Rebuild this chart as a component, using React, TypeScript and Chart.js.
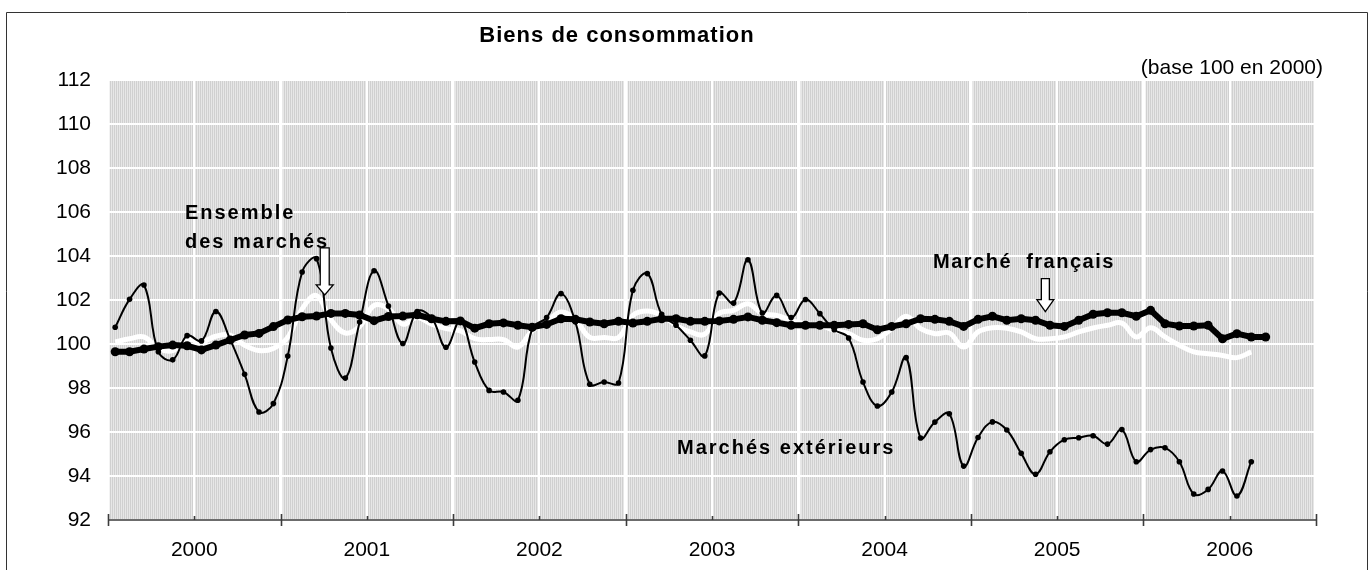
import { useEffect, useRef } from 'react';
import { Chart, registerables } from 'chart.js';

Chart.register(...registerables);

// Monthly indices, base 100 in 2000, starting January 2000
const START_YEAR = 2000;
const N_YEARS = 7;

// Marché français (thick black line with markers)
const marcheFrancais = [
  99.65, 99.65, 99.77, 99.88, 99.95, 99.92, 99.73, 99.95, 100.18, 100.41, 100.48, 100.79,
  101.09, 101.24, 101.27, 101.39, 101.39, 101.32, 101.06, 101.25, 101.27, 101.33, 101.15, 101.03,
  101.05, 100.72, 100.92, 100.96, 100.85, 100.76, 100.89, 101.15, 101.12, 101.0, 100.92, 101.03,
  100.95, 101.03, 101.15, 101.15, 101.03, 101.03, 101.05, 101.12, 101.23, 101.08, 100.97, 100.85,
  100.85, 100.85, 100.85, 100.89, 100.92, 100.65, 100.8, 100.92, 101.15, 101.12, 101.03, 100.8,
  101.12, 101.26, 101.08, 101.15, 101.08, 100.85, 100.8, 101.08, 101.35, 101.42, 101.42, 101.26,
  101.53, 100.92, 100.82, 100.82, 100.85, 100.24, 100.47, 100.32, 100.32,
];

// Marchés extérieurs (thin black smoothed line with markers)
const marchesExterieurs = [
  100.76, 102.03, 102.68, 99.65, 99.28, 100.38, 100.14, 101.48, 100.2, 98.62, 96.91, 97.29,
  99.45, 103.27, 103.88, 99.82, 98.45, 101.0, 103.33, 101.73, 100.02, 101.48, 101.2, 99.85,
  101.05, 99.18, 97.89, 97.82, 97.44, 100.7, 101.2, 102.29, 101.0, 98.17, 98.27, 98.23,
  102.44, 103.2, 101.35, 100.85, 100.17, 99.46, 102.32, 101.86, 103.83, 101.41, 102.21, 101.2,
  102.02, 101.38, 100.65, 100.27, 98.27, 97.18, 97.82, 99.38, 95.73, 96.45, 96.83, 94.45,
  95.75, 96.46, 96.09, 95.03, 94.08, 95.1, 95.65, 95.74, 95.83, 95.45, 96.11, 94.65,
  95.2, 95.28, 94.65, 93.18, 93.39, 94.23, 93.09, 94.65,
];

// Ensemble des marchés (thick white smoothed line)
const ensembleMarches = [
  100.09, 100.24, 100.32, 99.8, 99.7, 100.2, 100.1, 100.35, 100.4, 99.94, 99.7, 99.8,
  100.3, 101.6, 102.2, 101.1, 100.5, 100.8, 101.75, 101.6, 100.9, 101.2, 100.9, 100.7,
  100.6, 100.24, 100.2, 100.2, 99.86, 100.6, 101.0, 101.45, 101.1, 100.3, 100.3, 100.3,
  101.3, 101.5, 101.3, 100.85, 100.55, 100.45, 101.4, 101.53, 101.83, 101.38, 101.3, 101.08,
  100.92, 100.85, 100.62, 100.47, 100.17, 100.24, 100.7, 101.26, 100.7, 100.47, 100.5, 99.86,
  100.55, 100.74, 100.72, 100.55, 100.24, 100.24, 100.32, 100.55, 100.73, 100.85, 100.95, 100.32,
  100.74, 100.32, 99.94, 99.64, 99.56, 99.48, 99.38, 99.64,
];

const Y_MIN = 92;
const Y_MAX = 112;
const Y_STEP = 2;

const TITLE = 'Biens de consommation';
const NOTE = '(base 100 en 2000)';

const FONT = "'Liberation Sans', Arial, sans-serif";

const toPoints = (arr: number[]) => arr.map((v, i) => ({ x: i + 0.5, y: v }));

// text annotations anchored in data units (x: months since Jan 2000, y: index)
const textNotes = [
  { text: 'Ensemble', x: 5.35, y: 105.68, spacing: 2 },
  { text: 'des marchés', x: 5.35, y: 104.36, spacing: 2 },
  { text: 'Marché  français', x: 57.37, y: 103.45, spacing: 1.5 },
  { text: 'Marchés extérieurs', x: 39.57, y: 95.0, spacing: 2 },
];
// arrows: tip position in data units, shaft/head in px
const arrowNotes = [
  { x: 15.07, y: 102.23, shaft: 37, head: 10, shaftW: 9, headW: 17 },
  { x: 65.18, y: 101.47, shaft: 21, head: 12, shaftW: 8, headW: 17 },
];

function makePattern(): CanvasPattern | string {
  const c = document.createElement('canvas');
  c.width = 2;
  c.height = 1;
  const g = c.getContext('2d');
  if (!g) return '#dadada';
  g.fillStyle = '#d0d0d0';
  g.fillRect(0, 0, 1, 1);
  g.fillStyle = '#e7e7e7';
  g.fillRect(1, 0, 1, 1);
  const p = g.createPattern(c, 'repeat');
  return p || '#dadada';
}

const backgroundPlugin = {
  id: 'bgFrame',
  beforeDraw(chart: any) {
    const { ctx, chartArea, width } = chart;
    ctx.save();
    ctx.fillStyle = '#ffffff';
    ctx.fillRect(0, 0, width, chart.height);
    // frame
    ctx.strokeStyle = '#333333';
    ctx.lineWidth = 1;
    ctx.beginPath();
    ctx.moveTo(6.5, chart.height + 5);
    ctx.lineTo(6.5, 12.5);
    ctx.lineTo(1367.5, 12.5);
    ctx.lineTo(1367.5, chart.height + 5);
    ctx.stroke();
    // plot background
    ctx.fillStyle = makePattern();
    ctx.fillRect(chartArea.left, chartArea.top, chartArea.right - chartArea.left, chartArea.bottom - chartArea.top);
    // title & note
    ctx.fillStyle = '#000';
    ctx.font = `bold 22px ${FONT}`;
    (ctx as any).letterSpacing = '1px';
    ctx.textAlign = 'center';
    ctx.textBaseline = 'alphabetic';
    ctx.fillText(TITLE, 617, 42);
    (ctx as any).letterSpacing = '0px';
    ctx.font = `21px ${FONT}`;
    ctx.textAlign = 'right';
    ctx.fillText(NOTE, chartArea.right + 7, chartArea.top - 6);
    ctx.restore();
  },
};

const overlayPlugin = {
  id: 'overlay',
  afterDraw(chart: any) {
    const { ctx, chartArea } = chart;
    const xs = chart.scales.x;
    const ys = chart.scales.y;
    ctx.save();
    // axis line and ticks
    const b = chartArea.bottom;
    ctx.strokeStyle = '#3c3c3c';
    ctx.lineWidth = 1.6;
    ctx.beginPath();
    ctx.moveTo(xs.left, b);
    ctx.lineTo(xs.right, b);
    xs.ticks.forEach((t: any) => {
      const px = Math.round(xs.getPixelForValue(t.value)) + 0.5;
      const major = t.value % 12 === 0;
      ctx.moveTo(px, major ? b - 6 : b - 4);
      ctx.lineTo(px, major ? b + 6 : b);
    });
    ctx.stroke();

    // text annotations
    ctx.fillStyle = '#000';
    ctx.font = `bold 20px ${FONT}`;
    ctx.textAlign = 'left';
    ctx.textBaseline = 'alphabetic';
    textNotes.forEach((n) => {
      (ctx as any).letterSpacing = `${n.spacing}px`;
      ctx.fillText(n.text, xs.getPixelForValue(n.x), ys.getPixelForValue(n.y));
    });
    (ctx as any).letterSpacing = '0px';

    // arrows
    arrowNotes.forEach((a) => {
      const tx = xs.getPixelForValue(a.x);
      const ty = ys.getPixelForValue(a.y);
      const hb = ty - a.head;
      const st = hb - a.shaft;
      ctx.beginPath();
      ctx.moveTo(tx - a.shaftW / 2, st);
      ctx.lineTo(tx + a.shaftW / 2, st);
      ctx.lineTo(tx + a.shaftW / 2, hb);
      ctx.lineTo(tx + a.headW / 2, hb);
      ctx.lineTo(tx, ty);
      ctx.lineTo(tx - a.headW / 2, hb);
      ctx.lineTo(tx - a.shaftW / 2, hb);
      ctx.closePath();
      ctx.fillStyle = '#ffffff';
      ctx.fill();
      ctx.strokeStyle = '#000';
      ctx.lineWidth = 1.3;
      ctx.stroke();
    });
    ctx.restore();
  },
};

export default function App() {
  const ref = useRef<HTMLCanvasElement | null>(null);

  useEffect(() => {
    document.body.style.margin = '0';
    document.body.style.overflow = 'hidden';
    const canvas = ref.current;
    if (!canvas) return;
    const chart = new Chart(canvas, {
      type: 'line',
      data: {
        datasets: [
          {
            label: 'Marché français',
            data: toPoints(marcheFrancais),
            borderColor: '#000',
            backgroundColor: '#000',
            borderWidth: 6,
            pointRadius: 4.5,
            pointBorderWidth: 0,
            pointBackgroundColor: '#000',
            tension: 0,
          },
          {
            label: 'Marchés extérieurs',
            data: toPoints(marchesExterieurs),
            borderColor: '#000',
            backgroundColor: '#000',
            borderWidth: 2,
            pointRadius: 2.8,
            pointBorderWidth: 0,
            pointBackgroundColor: '#000',
            tension: 0.4,
          },
          {
            label: 'Ensemble des marchés',
            data: toPoints(ensembleMarches),
            borderColor: '#ffffff',
            borderWidth: 5,
            pointRadius: 0,
            tension: 0.4,
          },
        ],
      },
      options: {
        responsive: false,
        animation: false,
        devicePixelRatio: 1,
        layout: { padding: { top: 80, right: 56, left: 0, bottom: 0 } },
        plugins: {
          legend: { display: false },
          tooltip: { enabled: false },
          title: { display: false },
        },
        scales: {
          x: {
            type: 'linear',
            min: 0,
            max: N_YEARS * 12,
            afterFit: (s: any) => {
              s.height = 50;
            },
            ticks: {
              stepSize: 6,
              autoSkip: false,
              maxRotation: 0,
              padding: 18,
              color: '#000',
              font: { family: FONT, size: 21 },
              callback: (v: any) => {
                const n = Number(v);
                return n % 12 === 6 ? String(START_YEAR + (n - 6) / 12) : '';
              },
            },
            grid: {
              color: '#ffffff',
              lineWidth: (c: any) => (c.tick && c.tick.value % 12 === 0 ? 3.5 : 2),
              drawTicks: false,
            },
            border: { display: false },
          },
          y: {
            min: Y_MIN,
            max: Y_MAX,
            afterFit: (s: any) => {
              s.width = 108;
            },
            ticks: {
              stepSize: Y_STEP,
              padding: 17,
              color: '#000',
              font: { family: FONT, size: 21 },
            },
            grid: { color: '#ffffff', lineWidth: 2, drawTicks: false },
            border: { display: false },
          },
        },
      },
      plugins: [backgroundPlugin, overlayPlugin],
    } as any);
    return () => chart.destroy();
  }, []);

  return (
    <div>
      <canvas ref={ref} width={1372} height={570} style={{ display: 'block' }} />
    </div>
  );
}
